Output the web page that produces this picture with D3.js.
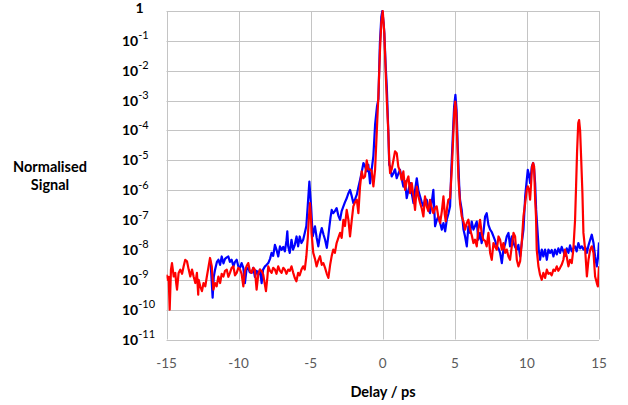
<!DOCTYPE html>
<html>
<head>
<meta charset="utf-8">
<script src="https://cdn.jsdelivr.net/npm/d3@7"></script>
<style>
  body { margin: 0; background: #fff; }
  svg { display: block; font-family: Lato, "Open Sans", sans-serif; }
  .grid line { stroke: #c4c4c4; stroke-width: 1; }
  .ylab { font-weight: bold; font-size: 14px; fill: #000; }
  .xlab { font-size: 13.5px; fill: #595959; }
  .title { font-weight: bold; font-size: 14.5px; fill: #000; }
</style>
</head>
<body>
<svg></svg>
<script>
var width = 628,
    height = 405,
    plot = {
        left: 166.5,
        right: 599,
        top: 11,
        bottom: 339.5
    }

// axis ticks
var X_TICKS = [-15, -10, -5, 0, 5, 10, 15]
var Y_EXPONENTS = [0, -1, -2, -3, -4, -5, -6, -7, -8, -9, -10, -11]

// red trace: delay (ps) and log10 of normalised signal
var redDelay = [-15.0, -14.91, -14.85, -14.78, -14.69, -14.62, -14.5, -14.39, -14.33, -14.27, -14.16, -14.04, -13.92, -13.81, -13.7, -13.58, -13.46, -13.35, -13.23, -13.12, -13.0, -12.89, -12.8, -12.77, -12.66, -12.54, -12.43, -12.31, -12.2, -12.08,
    -11.98, -11.86, -11.75, -11.63, -11.52, -11.4, -11.28, -11.17, -11.05, -10.94, -10.82, -10.71, -10.6, -10.48, -10.36, -10.25, -10.13, -10.02, -9.9, -9.79, -9.67, -9.56, -9.45, -9.33, -9.22, -9.1, -8.98, -8.87, -8.75, -8.63,
    -8.52, -8.4, -8.29, -8.1, -8.0, -7.94, -7.82, -7.71, -7.6, -7.48, -7.37, -7.25, -7.13, -7.02, -6.9, -6.79, -6.68, -6.56, -6.45, -6.33, -6.22, -6.1, -5.99, -5.87, -5.76, -5.64, -5.52, -5.41, -5.3, -5.2,
    -5.12, -5.05, -4.97, -4.94, -4.82, -4.7, -4.59, -4.47, -4.35, -4.23, -4.12, -4.0, -3.88, -3.77, -3.65, -3.54, -3.43, -3.32, -3.2, -3.08, -2.96, -2.85, -2.73, -2.62, -2.5, -2.38, -2.27, -2.15, -2.04, -1.92,
    -1.8, -1.69, -1.58, -1.46, -1.35, -1.23, -1.11, -1.0, -0.88, -0.77, -0.65, -0.53, -0.42, -0.3, -0.19, -0.1, 0.0, 0.11, 0.2, 0.28, 0.39, 0.45, 0.51, 0.62, 0.74, 0.85, 0.97, 1.08, 1.2, 1.31,
    1.43, 1.55, 1.66, 1.78, 1.9, 2.01, 2.13, 2.24, 2.36, 2.47, 2.59, 2.7, 2.82, 2.93, 3.05, 3.16, 3.28, 3.4, 3.51, 3.63, 3.74, 3.86, 3.98, 4.1, 4.21, 4.3, 4.37, 4.46, 4.55, 4.67,
    4.79, 4.88, 4.96, 5.03, 5.1, 5.17, 5.25, 5.36, 5.48, 5.6, 5.71, 5.83, 5.94, 6.06, 6.17, 6.29, 6.4, 6.52, 6.63, 6.75, 6.86, 6.98, 7.1, 7.21, 7.33, 7.45, 7.56, 7.68, 7.8, 7.91,
    8.03, 8.14, 8.26, 8.37, 8.49, 8.6, 8.72, 8.83, 8.95, 9.07, 9.18, 9.3, 9.41, 9.53, 9.64, 9.76, 9.88, 9.99, 10.06, 10.15, 10.22, 10.3, 10.36, 10.43, 10.5, 10.57, 10.63, 10.68, 10.8, 10.91,
    11.03, 11.14, 11.26, 11.38, 11.49, 11.61, 11.72, 11.84, 11.95, 12.07, 12.18, 12.3, 12.41, 12.53, 12.64, 12.76, 12.88, 12.99, 13.11, 13.22, 13.34, 13.41, 13.48, 13.56, 13.62, 13.69, 13.76, 13.85, 13.92, 14.04,
    14.16, 14.27, 14.39, 14.5, 14.62, 14.73, 14.85, 14.92, 15.0]
var redLog = [-8.83, -9.0, -8.9, -10.0, -8.66, -8.44, -8.89, -8.77, -9.1, -9.33, -8.77, -8.66, -8.8, -8.55, -8.33, -8.38, -8.66, -8.89, -8.66, -8.89, -9.11, -8.77, -9.5, -9.0, -9.22, -9.38, -9.11, -9.22, -8.89, -8.55,
    -8.27, -8.55, -9.33, -9.11, -9.22, -8.89, -9.11, -8.8, -8.89, -8.7, -8.66, -8.9, -8.77, -8.6, -8.55, -8.85, -8.77, -8.6, -8.66, -8.8, -9.22, -8.7, -8.55, -8.44, -8.7, -8.77, -8.6, -8.66, -9.33, -8.8,
    -8.66, -8.7, -8.83, -9.38, -8.9, -8.55, -8.7, -8.77, -8.6, -8.66, -8.8, -8.55, -8.7, -8.77, -8.6, -8.66, -8.8, -8.66, -8.7, -8.55, -8.75, -8.94, -9.05, -8.77, -8.85, -8.66, -8.55, -8.66, -8.22, -7.6,
    -6.9, -6.43, -7.0, -7.43, -8.1, -8.3, -8.55, -8.35, -8.21, -8.5, -8.44, -8.6, -8.8, -8.94, -8.5, -8.2, -7.99, -8.1, -7.77, -7.6, -7.43, -7.6, -6.99, -7.2, -6.66, -7.0, -7.55, -7.0, -6.54, -6.4,
    -6.32, -6.77, -5.9, -5.37, -5.6, -5.54, -5.0, -5.3, -5.3, -5.35, -5.87, -5.3, -4.1, -2.8, -1.3, -0.4, 0.0, -0.75, -2.0, -2.98, -4.09, -5.0, -5.43, -5.3, -5.0, -4.7, -4.76, -5.21, -5.37, -5.65,
    -5.37, -5.99, -5.7, -5.54, -6.1, -5.76, -6.2, -6.66, -5.88, -6.2, -6.43, -6.6, -6.88, -6.21, -6.54, -6.7, -6.32, -6.6, -6.77, -6.6, -6.54, -6.9, -7.1, -6.7, -6.21, -6.8, -7.04, -6.6, -6.32, -6.27,
    -5.3, -4.3, -3.4, -3.03, -3.4, -4.4, -5.6, -6.43, -6.88, -7.05, -7.32, -7.1, -6.99, -7.32, -7.5, -7.77, -7.66, -7.88, -7.32, -6.99, -7.43, -7.66, -7.7, -7.88, -7.43, -8.1, -8.33, -7.77, -7.9, -7.99,
    -7.55, -7.66, -7.99, -7.77, -8.1, -7.99, -8.22, -8.33, -7.88, -7.43, -7.55, -8.33, -8.55, -8.38, -7.77, -6.88, -6.43, -5.99, -5.87, -6.0, -6.32, -5.7, -5.2, -5.09, -5.21, -6.3, -6.88, -7.99, -8.55, -8.83,
    -9.0, -8.77, -8.94, -8.66, -8.8, -8.77, -8.85, -8.66, -8.7, -8.55, -8.7, -8.6, -8.5, -8.33, -7.99, -8.22, -8.55, -8.33, -8.44, -7.99, -7.0, -5.87, -4.7, -3.75, -3.65, -4.0, -4.9, -6.1, -7.43, -7.99,
    -8.89, -8.33, -7.99, -7.88, -8.1, -8.89, -9.11, -9.22, -8.55]

// blue trace: delay (ps) and log10 of normalised signal
var blueDelay = [-11.98, -11.92, -11.86, -11.8, -11.72, -11.63, -11.5, -11.4, -11.28, -11.17, -11.05, -10.94, -10.82, -10.71, -10.6, -10.48, -10.36, -10.25, -10.13, -10.02, -9.9, -9.79, -9.67, -9.56, -9.45, -9.33, -9.22, -9.1, -8.98, -8.87,
    -8.75, -8.63, -8.52, -8.4, -8.3, -8.17, -8.05, -7.94, -7.82, -7.71, -7.6, -7.48, -7.37, -7.25, -7.13, -7.02, -6.9, -6.79, -6.68, -6.62, -6.56, -6.45, -6.33, -6.22, -6.1, -5.98, -5.87, -5.76, -5.64, -5.52,
    -5.41, -5.3, -5.2, -5.09, -4.97, -4.86, -4.7, -4.58, -4.47, -4.35, -4.23, -4.1, -4.0, -3.88, -3.79, -3.7, -3.62, -3.54, -3.43, -3.32, -3.2, -3.08, -2.96, -2.85, -2.73, -2.62, -2.5, -2.38, -2.27, -2.15,
    -2.04, -1.92, -1.8, -1.69, -1.57, -1.46, -1.34, -1.23, -1.11, -1.0, -0.88, -0.77, -0.65, -0.53, -0.4, -0.3, -0.2, -0.1, -0.03, 0.06, 0.11, 0.2, 0.28, 0.39, 0.45, 0.51, 0.62, 0.74, 0.85, 0.97,
    1.08, 1.2, 1.31, 1.43, 1.55, 1.66, 1.78, 1.9, 2.01, 2.13, 2.24, 2.36, 2.47, 2.59, 2.7, 2.82, 2.93, 3.05, 3.16, 3.28, 3.4, 3.51, 3.57, 3.63, 3.75, 3.86, 3.98, 4.1, 4.21, 4.33,
    4.44, 4.55, 4.67, 4.75, 4.85, 4.95, 5.04, 5.12, 5.2, 5.3, 5.36, 5.48, 5.6, 5.71, 5.83, 5.94, 6.06, 6.17, 6.29, 6.4, 6.52, 6.63, 6.75, 6.86, 6.98, 7.1, 7.21, 7.33, 7.45, 7.56,
    7.68, 7.8, 7.91, 8.03, 8.14, 8.26, 8.37, 8.49, 8.6, 8.72, 8.83, 8.95, 9.07, 9.18, 9.3, 9.41, 9.53, 9.64, 9.76, 9.88, 9.99, 10.06, 10.13, 10.22, 10.34, 10.43, 10.5, 10.57, 10.64, 10.73,
    10.82, 10.91, 11.03, 11.14, 11.26, 11.38, 11.49, 11.61, 11.72, 11.84, 11.95, 12.07, 12.18, 12.3, 12.41, 12.53, 12.64, 12.76, 12.88, 12.99, 13.11, 13.22, 13.34, 13.45, 13.57, 13.69, 13.81, 13.92, 14.04, 14.16,
    14.27, 14.39, 14.5, 14.62, 14.73, 14.85, 14.92, 15.0]
var blueLog = [-8.33, -8.6, -9.1, -9.6, -8.9, -8.66, -8.4, -8.33, -8.5, -8.22, -8.45, -8.3, -8.25, -8.22, -8.4, -8.33, -8.55, -8.4, -8.33, -8.55, -8.6, -8.44, -8.6, -9.11, -8.66, -8.6, -8.75, -8.77, -8.6, -8.9,
    -8.7, -8.83, -8.66, -9.11, -8.66, -8.55, -8.5, -8.44, -8.3, -8.1, -8.2, -7.83, -7.99, -8.22, -7.88, -8.0, -7.9, -8.05, -7.7, -7.38, -7.88, -8.1, -7.66, -7.99, -7.83, -7.55, -7.88, -7.55, -7.77, -7.66,
    -7.43, -7.2, -6.5, -5.71, -6.54, -7.55, -7.21, -7.6, -7.88, -7.5, -7.27, -7.5, -7.66, -7.93, -7.6, -7.21, -6.9, -6.66, -6.77, -6.7, -6.6, -6.85, -6.99, -6.7, -6.54, -6.4, -6.27, -6.1, -5.99, -6.2,
    -6.43, -6.3, -6.15, -5.9, -5.65, -5.4, -5.09, -5.2, -5.37, -5.15, -5.77, -5.32, -4.85, -3.8, -3.2, -2.95, -1.1, -0.2, 0.0, -0.4, -0.75, -1.8, -2.53, -4.09, -5.15, -5.21, -5.54, -5.43, -5.3, -5.6,
    -5.45, -5.32, -5.6, -5.88, -5.7, -6.27, -6.0, -5.76, -6.1, -6.43, -6.0, -5.6, -6.0, -6.21, -6.4, -6.54, -6.3, -6.32, -6.6, -6.77, -6.4, -5.99, -6.6, -7.21, -7.0, -6.88, -7.1, -7.32, -7.1, -7.38,
    -6.99, -6.8, -6.54, -5.4, -4.3, -3.2, -2.81, -3.3, -4.5, -5.8, -6.32, -6.66, -7.32, -7.55, -7.88, -7.21, -7.43, -7.05, -7.32, -7.2, -7.05, -7.66, -7.43, -7.77, -7.43, -6.88, -6.77, -7.16, -7.32, -7.4,
    -7.55, -7.7, -7.88, -7.95, -8.1, -8.44, -7.99, -7.8, -7.55, -7.43, -7.88, -7.55, -7.77, -7.9, -7.99, -7.83, -8.22, -7.77, -7.32, -6.21, -5.65, -5.32, -5.45, -5.76, -5.21, -5.09, -5.3, -5.76, -6.66, -7.32,
    -7.99, -8.33, -7.99, -8.22, -7.99, -8.33, -7.99, -8.1, -8.0, -8.22, -7.99, -8.15, -7.95, -8.1, -7.9, -8.05, -8.2, -7.95, -8.1, -7.85, -8.05, -7.95, -7.88, -8.05, -7.77, -7.95, -7.88, -7.99, -7.9, -8.1,
    -7.85, -7.66, -7.49, -7.77, -8.22, -8.55, -8.3, -7.75]

document.addEventListener("DOMContentLoaded", function(e) {
    drawGraph()
})

function makeSeries(delays, logs) {
    return delays.map(function(d, i) {
        return { x: d, y: Math.pow(10, logs[i]) }
    })
}

function drawGraph() {
    var canvas = d3.select("svg")
        .attr("width", width)
        .attr("height", height)

    var xScale = d3.scaleLinear()
        .domain([-15, 15])
        .range([plot.left, plot.right])
    var yScale = d3.scaleLog()
        .domain([1e-11, 1])
        .range([plot.bottom, plot.top])

    // gridlines
    var grid = canvas.append("g").attr("class", "grid")
    grid.selectAll(".gx")
        .data(X_TICKS)
        .enter()
        .append("line")
        .attr("x1", function(d) { return Math.round(xScale(d)) + 0.5 })
        .attr("x2", function(d) { return Math.round(xScale(d)) + 0.5 })
        .attr("y1", plot.top)
        .attr("y2", plot.bottom)
    grid.selectAll(".gy")
        .data(Y_EXPONENTS)
        .enter()
        .append("line")
        .attr("x1", plot.left)
        .attr("x2", plot.right)
        .attr("y1", function(d) { return Math.round(yScale(Math.pow(10, d))) + 0.5 })
        .attr("y2", function(d) { return Math.round(yScale(Math.pow(10, d))) + 0.5 })

    // y tick labels, 1 then 10^-n (powers start at the same x, like the original)
    canvas.selectAll(".ylab")
        .data(Y_EXPONENTS)
        .enter()
        .append("text")
        .attr("class", "ylab")
        .attr("text-anchor", function(d) { return d == 0 ? "end" : "start" })
        .attr("x", function(d) { return d == 0 ? 143.5 : 122 })
        .attr("y", function(d) { return yScale(Math.pow(10, d)) + (d == 0 ? 2 : 5) })
        .each(function(d) {
            var t = d3.select(this)
            if (d == 0) {
                t.text("1")
                return
            }
            t.append("tspan").text("10")
            t.append("tspan")
                .attr("dy", -6.5)
                .style("font-size", "11px")
                .style("font-weight", "normal")
                .text(d)
        })

    // x tick labels
    canvas.selectAll(".xlab")
        .data(X_TICKS)
        .enter()
        .append("text")
        .attr("class", "xlab")
        .attr("text-anchor", "middle")
        .attr("x", function(d) { return xScale(d) })
        .attr("y", 368)
        .text(function(d) { return d })

    canvas.append("text")
        .attr("class", "title")
        .attr("text-anchor", "middle")
        .attr("x", 383)
        .attr("y", 397)
        .text("Delay / ps")

    var ytitle = canvas.append("text")
        .attr("class", "title")
        .attr("text-anchor", "middle")
    ytitle.append("tspan").attr("x", 50).attr("y", 172).text("Normalised")
    ytitle.append("tspan").attr("x", 50).attr("y", 190).text("Signal")

    canvas.append("clipPath")
        .attr("id", "clip")
        .append("rect")
        .attr("x", plot.left)
        .attr("y", plot.top - 2)
        .attr("width", plot.right - plot.left)
        .attr("height", plot.bottom - plot.top + 2)

    var line = d3.line()
        .x(function(d) { return xScale(d.x) })
        .y(function(d) { return yScale(d.y) })

    var traces = [
        { data: makeSeries(blueDelay, blueLog), color: "#0000ff" },
        { data: makeSeries(redDelay, redLog), color: "#ff0000" }
    ]
    canvas.append("g")
        .attr("clip-path", "url(#clip)")
        .selectAll("path")
        .data(traces)
        .enter()
        .append("path")
        .attr("d", function(d) { return line(d.data) })
        .attr("fill", "none")
        .attr("stroke", function(d) { return d.color })
        .attr("stroke-width", 2.2)
        .attr("stroke-linejoin", "round")
}
</script>
</body>
</html>
